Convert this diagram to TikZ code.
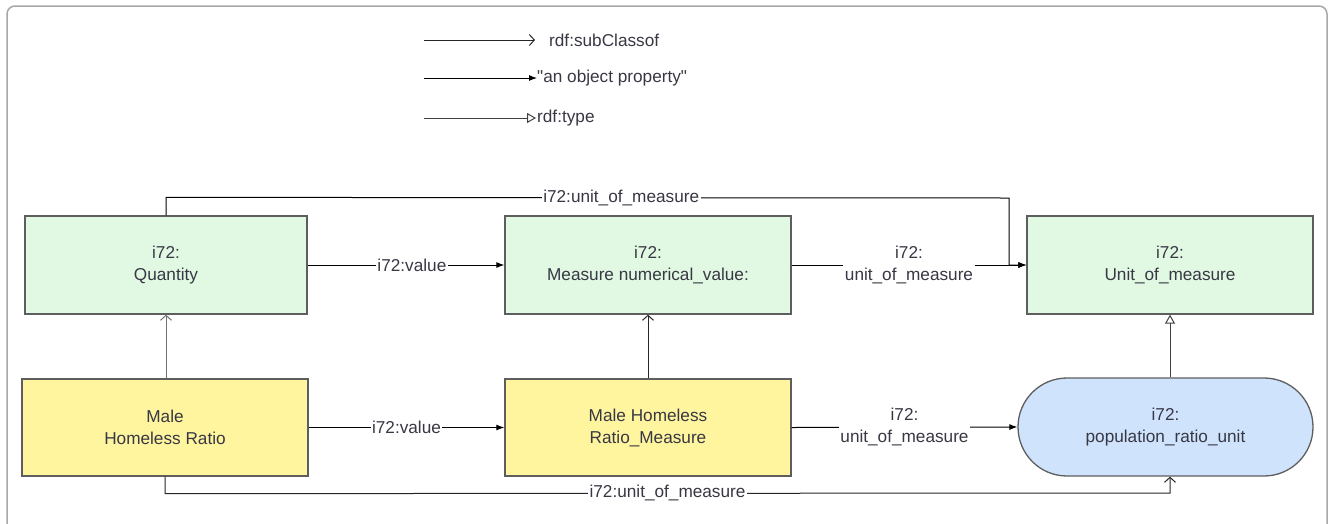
\documentclass[tikz,border=0pt]{standalone}
\usepackage{fontspec}
\setmainfont{Liberation Sans}
\usetikzlibrary{arrows.meta}
\definecolor{classgreen}{HTML}{E1F8E3}
\definecolor{instyellow}{HTML}{FFF59F}
\definecolor{unitblue}{HTML}{CFE3FD}
\definecolor{boxline}{HTML}{5E5E5E}
\definecolor{txt}{HTML}{383844}
\definecolor{framegray}{HTML}{A8A8A8}
\tikzset{
  every node/.style={font=\fontsize{17.2}{22}\selectfont, text=txt},
  box/.style={draw=boxline, line width=1.3pt, inner sep=0pt, align=center},
  classbox/.style={box, fill=classgreen},
  instbox/.style={box, fill=instyellow},
  prop/.style={draw=black, line width=1pt, -{Latex[length=8pt,width=6pt]}},
  subcls/.style={draw=black!85, line width=1pt, -{Straight Barb[length=5pt,width=11pt]}},
  rdftype/.style={draw=black!75, line width=1pt, -{Triangle[open,length=9pt,width=10pt,fill=white]}},
  lbl/.style={fill=white, inner sep=1.5pt, align=center},
}
\begin{document}
\begin{tikzpicture}[x=1pt,y=-1pt]
  \useasboundingbox (0,0) rectangle (1330,523);
  % outer page frame
  \draw[framegray, line width=1.5pt, rounded corners=8pt] (7,540) -- (7,6) -- (1327,6) -- (1327,540);

  % legend
  \node[anchor=west, inner sep=0pt] (lg1) at (549,40) {rdf:subClassof};
  \node[anchor=west, inner sep=0pt] (lg2) at (537,78) {\textquotedbl an object property\textquotedbl};
  \node[anchor=west, inner sep=0pt] (lg3) at (537,118) {rdf:type};
  \coordinate (ls1) at (424,40);
  \coordinate (ls2) at (424,78);
  \coordinate (ls3) at (424,118);
  \draw[subcls] (ls1) -- ([xshift=-14pt]lg1.west);
  \draw[prop] (ls2) -- (lg2.west);
  \draw[rdftype] (ls3) -- ([xshift=-1pt]lg3.west);

  % classes
  \node[classbox, minimum width=282pt, minimum height=98pt] (q) at (166,265) {i72:\\Quantity};
  \node[classbox, minimum width=286pt, minimum height=98pt] (m) at (648,265) {i72:\\Measure numerical\_value:};
  \node[classbox, minimum width=286pt, minimum height=98pt] (u) at (1170,265) {i72:\\Unit\_of\_measure};

  % individuals
  \node[instbox, minimum width=286pt, minimum height=97pt] (r) at (165,427.5) {Male\\Homeless Ratio};
  \node[instbox, minimum width=286pt, minimum height=97pt] (rm) at (648,427.5) {Male Homeless\\Ratio\_Measure};
  \node[box, fill=unitblue, rounded corners=49pt, minimum width=295pt, minimum height=98pt] (p) at (1165.5,427) {i72:\\population\_ratio\_unit};

  % properties between classes
  \draw[prop] (q.east) -- node[lbl, pos=0.53] {i72:value} (m.west);
  \draw[prop] (m.east) -- node[lbl] {i72:\\unit\_of\_measure} (u.west);
  \draw[prop] (q.north) -- ++(0,-18) -- node[lbl, pos=0.54] {i72:unit\_of\_measure} (1009,198) -- (1009,265) -- (u.west);

  % subclass / type links
  \draw[subcls, draw=black!55] (r.north -| q.south) -- (q.south);
  \draw[subcls] (rm.north) -- (m.south);
  \draw[rdftype] (p.north -| u.south) -- (u.south);

  % properties between individuals
  \draw[prop] (r.east) -- node[lbl] {i72:value} (rm.west);
  \draw[prop] (rm.east) -- node[lbl] {i72:\\unit\_of\_measure} (p.west);
  \draw[subcls] (r.south) -- ++(0,17) -- node[lbl] {i72:unit\_of\_measure} (1170,493) -- (u.south |- p.south);
\end{tikzpicture}
\end{document}
